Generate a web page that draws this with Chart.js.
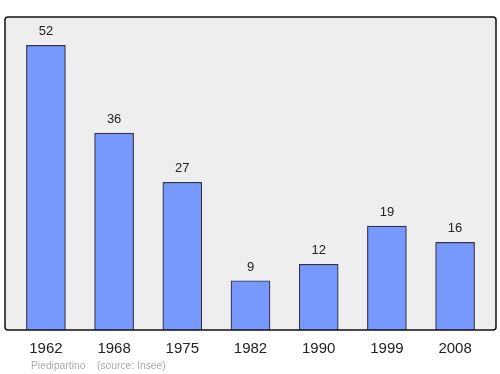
<!DOCTYPE html>
<html>
<head>
<meta charset="utf-8">
<script src="https://cdn.jsdelivr.net/npm/chart.js@4/dist/chart.umd.min.js"></script>
<style>
  html, body { margin: 0; padding: 0; background: #fff; }
  #wrap { width: 500px; height: 374px; }
</style>
</head>
<body>
<div id="wrap"><canvas id="popChart" width="500" height="374"></canvas></div>
<script>
const years = ['1962', '1968', '1975', '1982', '1990', '1999', '2008'];
const population = [52, 36, 27, 9, 12, 19, 16];
const footerName = 'Piedipartino';
const footerSource = '(source: Insee)';

const FONT = "'Liberation Sans', Arial, sans-serif";

const frame = {
    id: 'frame',
    beforeDatasetsDraw(chart) {
        const { ctx, chartArea: a } = chart;
        ctx.save();
        ctx.beginPath();
        ctx.roundRect(a.left, a.top, a.right - a.left, a.bottom - a.top, 3);
        ctx.fillStyle = '#eeeeee';
        ctx.fill();
        ctx.restore();
    },
    afterDatasetsDraw(chart) {
        const { ctx, chartArea: a } = chart;
        ctx.save();
        ctx.beginPath();
        ctx.roundRect(a.left, a.top, a.right - a.left, a.bottom - a.top, 3);
        ctx.lineWidth = 1.5;
        ctx.strokeStyle = '#111';
        ctx.stroke();

        // values above the bars
        ctx.font = '13px ' + FONT;
        ctx.fillStyle = '#222';
        ctx.textAlign = 'center';
        ctx.textBaseline = 'alphabetic';
        chart.getDatasetMeta(0).data.forEach((bar, i) => {
            ctx.fillText(population[i], bar.x, bar.y - 10);
        });

        // footer
        ctx.font = '10.3px ' + FONT;
        ctx.fillStyle = '#aaaaaa';
        ctx.textAlign = 'left';
        ctx.fillText(footerName, 31, 369);
        ctx.fillText(footerSource, 97, 369);
        ctx.restore();
    }
};

new Chart(document.getElementById('popChart'), {
    type: 'bar',
    data: {
        datasets: [{
            data: population.map((v, i) => ({ x: i, y: v })),
            backgroundColor: '#7799ff',
            borderColor: '#333344',
            borderWidth: 1.2,
            barThickness: 39
        }]
    },
    options: {
        responsive: false,
        animation: false,
        layout: { padding: { left: 5, right: 4, top: 17, bottom: 0 } },
        plugins: { legend: { display: false }, tooltip: { enabled: false } },
        scales: {
            x: {
                type: 'linear',
                offset: false,
                min: -0.6,
                max: 6.6,
                border: { display: false },
                grid: { display: false, drawTicks: false, offset: false },
                afterFit: s => { s.height = 44; },
                ticks: {
                    stepSize: 1,
                    includeBounds: false,
                    padding: 10,
                    color: '#222',
                    font: { size: 15, family: FONT },
                    callback: v => years[v] ?? ''
                }
            },
            y: {
                display: false,
                min: 0,
                max: 57.2
            }
        }
    },
    plugins: [frame]
});
</script>
</body>
</html>
